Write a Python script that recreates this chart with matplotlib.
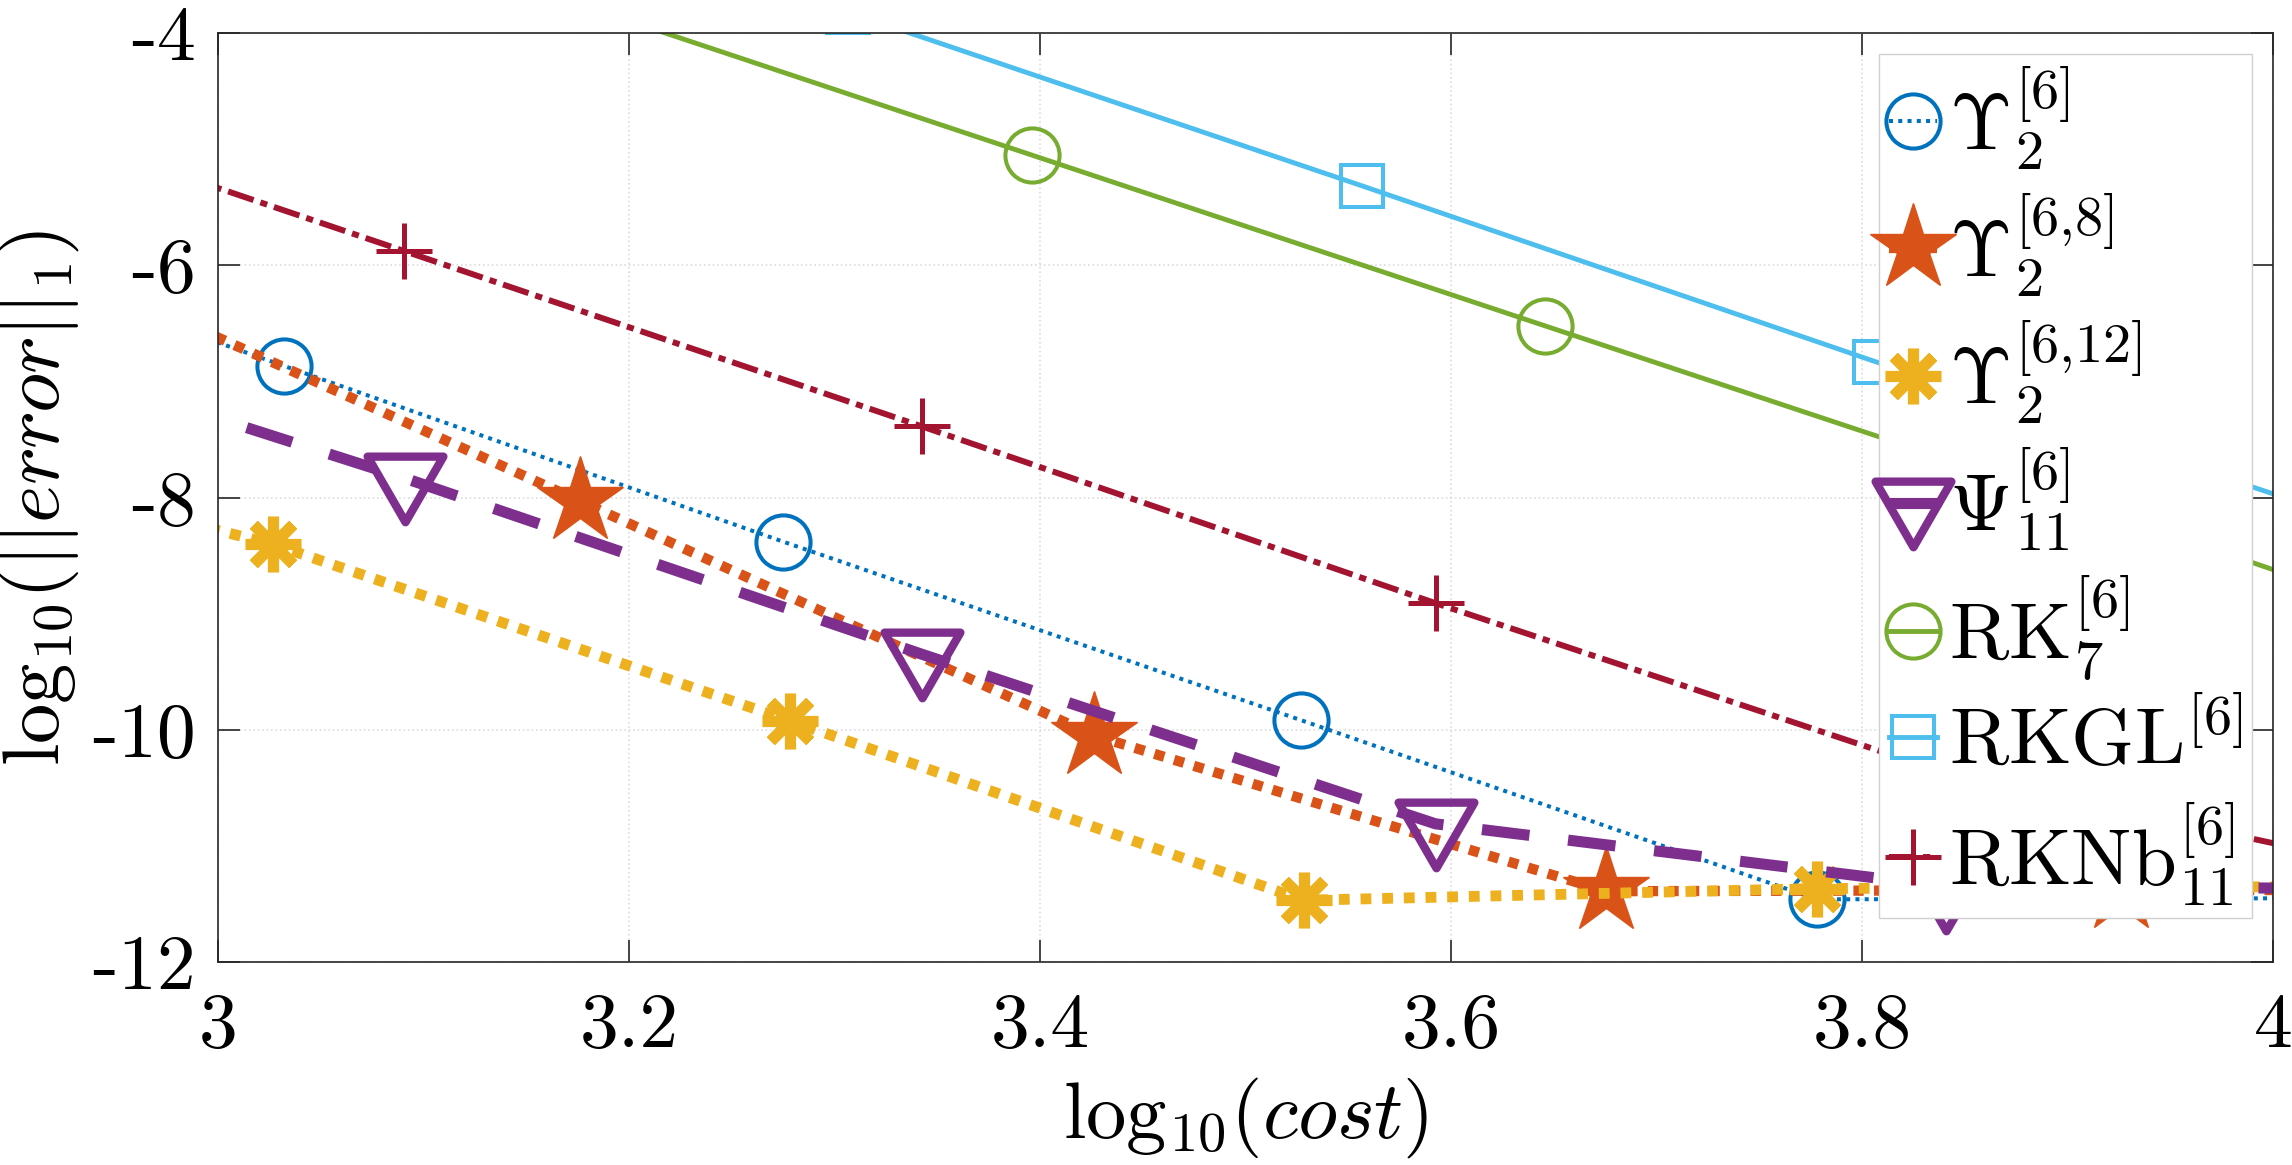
import numpy as np
import matplotlib
matplotlib.use("Agg")
import matplotlib.pyplot as plt
from matplotlib.path import Path

plt.rcParams['font.family'] = 'cmr10'
plt.rcParams['mathtext.fontset'] = 'cm'
plt.rcParams['axes.unicode_minus'] = False

# data (log10 cost, log10 error)
x_ups6 = [2.782, 3.032, 3.275, 3.527, 3.778, 4.030]
y_ups6 = [-5.30, -6.866, -8.38, -9.917, -11.46, -11.45]

x_ups68 = [2.926, 3.176, 3.4265, 3.6754, 3.926, 4.176]
y_ups68 = [-6.03, -8.03, -10.05, -11.39, -11.38, -11.38]

x_ups612 = [2.777, 3.027, 3.2786, 3.5283, 3.7779, 4.028]
y_ups612 = [-7.28, -8.404, -9.924, -11.468, -11.367, -11.35]

x_psi = [2.841, 3.091, 3.3426, 3.5925, 3.841, 4.091]
y_psi = [-6.42, -7.834, -9.35, -10.81, -11.35, -11.37]

x_rk7 = [3.1463, 3.3963, 3.6456, 3.8956, 4.1456]
y_rk7 = [-3.58, -5.053, -6.521, -7.99, -9.50]

x_rkgl = [3.3065, 3.5565, 3.8065, 4.0565]
y_rkgl = [-3.82, -5.315, -6.83, -8.30]

x_rknb = [2.8405, 3.0905, 3.3426, 3.5925, 3.8405, 4.0905]
y_rknb = [-4.38, -5.877, -7.388, -8.91, -10.37, -11.32]

xticks = [3, 3.2, 3.4, 3.6, 3.8, 4]
xticklabels = ['3', '3.2', '3.4', '3.6', '3.8', '4']
yticks = [-12, -10, -8, -6, -4]
yticklabels = ['-12', '-10', '-8', '-6', '-4']

# downward triangle centred on its centroid (like MATLAB)
tri = Path([(-1, 0.577), (1, 0.577), (0, -1.155), (-1, 0.577)],
           [Path.MOVETO, Path.LINETO, Path.LINETO, Path.CLOSEPOLY])

fig = plt.figure(figsize=(22.92, 11.65), dpi=100)
ax = fig.add_axes([0.0951, 0.1742, 0.8966, 0.7975])

ax.plot(x_ups6, y_ups6, color='#0072BD', lw=2.9, ls=(0, (1, 1.3)),
        marker='o', ms=39, mew=2.9, mfc='none',
        label=r'$\Upsilon_2^{[6]}$')
ax.plot(x_ups68, y_ups68, color='#D95319', lw=7.4, ls=(0, (1, 1)),
        marker='*', ms=65, mew=1, mfc='#D95319',
        label=r'$\Upsilon_2^{[6{,}8]}$')
ax.plot(x_ups612, y_ups612, color='#EDB120', lw=7.8, ls=(0, (1, 1)),
        marker=(8, 2, 0), ms=40, mew=8,
        label=r'$\Upsilon_2^{[6{,}12]}$')
ax.plot(x_psi, y_psi, color='#7E2F8E', lw=8, ls=(0, (4.3, 3.5)),
        marker=tri, ms=63, mew=6, mfc='none',
        label=r'$\Psi_{11}^{[6]}$')
ax.plot(x_rk7, y_rk7, color='#77AC30', lw=3.5, ls='-',
        marker='o', ms=39, mew=2.9, mfc='none',
        label=r'$\mathrm{RK}_7^{[6]}$')
ax.plot(x_rkgl, y_rkgl, color='#4DBEEE', lw=3.5, ls='-',
        marker='s', ms=30, mew=2.9, mfc='none',
        label=r'$\mathrm{RKGL}^{[6]}$')
ax.plot(x_rknb, y_rknb, color='#A2142F', lw=4.3, ls=(0, (4.5, 1.2, 1.2, 1.2)),
        marker='+', ms=41, mew=3.6,
        label=r'$\mathrm{RKNb}_{11}^{[6]}$')

ax.set_xlim(3, 4)
ax.set_ylim(-12, -4)
ax.set_xticks(xticks)
ax.set_xticklabels(xticklabels)
ax.set_yticks(yticks)
ax.set_yticklabels(yticklabels)
ax.tick_params(direction='in', length=16, width=1.2, colors='#262626',
               labelsize=56, labelcolor='black', top=True, right=True)
ax.tick_params(axis='x', pad=22)
ax.tick_params(axis='y', pad=16)
for s in ax.spines.values():
    s.set_color('#262626')
    s.set_linewidth(1.2)
ax.grid(True, color='#dcdcdc', ls=':', lw=1.2)
ax.set_axisbelow(True)

ax.set_xlabel(r'$\mathrm{log}_{10}(cost)$', fontsize=58, labelpad=10)
ax.set_ylabel(r'$\mathrm{log}_{10}(||error||_1)$', fontsize=58, labelpad=8)

leg = ax.legend(loc='upper right', bbox_to_anchor=(0.990, 0.977),
                borderaxespad=0, fontsize=58, handlelength=0.6,
                handletextpad=0.15, labelspacing=0.24, borderpad=0.12,
                fancybox=False, edgecolor='#d0d0d0', framealpha=1)
leg.get_frame().set_linewidth(1.0)

fig.savefig('out.png', dpi=100)
